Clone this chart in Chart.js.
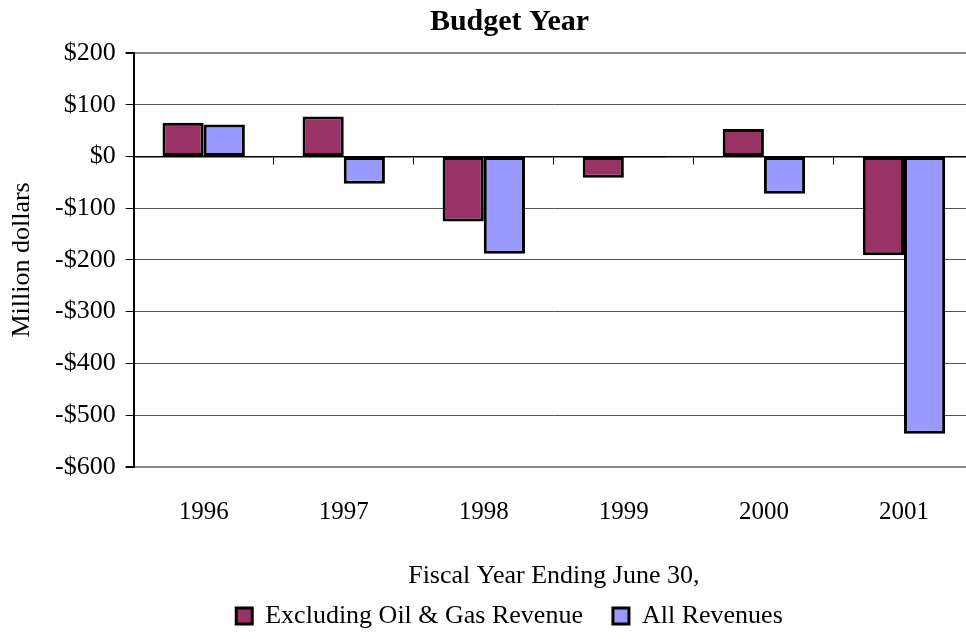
<!DOCTYPE html>
<html lang="en">
<head>
    <meta charset="UTF-8">
    <title>Budget Year</title>
    <script src="https://cdn.jsdelivr.net/npm/chart.js"></script>
    <style>
        html, body { margin: 0; padding: 0; background: #fff; overflow: hidden; }
        #wrap { width: 980px; height: 639px; }
    </style>
</head>
<body>
    <div id="wrap">
        <canvas id="budgetChart"></canvas>
    </div>

    <script>
        // Data (million dollars)
        const years = ['1996', '1997', '1998', '1999', '2000', '2001'];
        const excludingOilGas = [65, 77, -126, -41, 53, -191];
        const allRevenues = [62, -53, -188, -2, -72, -536];

        const yMin = -600;
        const yMax = 200;
        const yStep = 100;

        const chartTitle = 'Budget Year';
        const xAxisTitle = 'Fiscal Year Ending June 30,';
        const yAxisTitle = 'Million dollars';

        const serif = '"Liberation Serif", "Times New Roman", serif';

        // rotated y axis title, drawn at the far left
        const yTitlePlugin = {
            id: 'yTitle',
            afterDraw(chart) {
                const { ctx, chartArea } = chart;
                ctx.save();
                ctx.translate(22, (chartArea.top + chartArea.bottom) / 2);
                ctx.rotate(-Math.PI / 2);
                ctx.font = '26px ' + serif;
                ctx.fillStyle = '#000';
                ctx.textAlign = 'center';
                ctx.textBaseline = 'middle';
                ctx.fillText(yAxisTitle, 0, 0);
                ctx.restore();
            }
        };

        function money(v) {
            return v < 0 ? '-$' + Math.abs(v) : '$' + v;
        }

        const ctx = document.getElementById('budgetChart').getContext('2d');
        new Chart(ctx, {
            type: 'bar',
            data: {
                labels: years,
                datasets: [{
                    label: 'Excluding Oil & Gas Revenue',
                    data: excludingOilGas,
                    backgroundColor: '#993366',
                    borderColor: '#000',
                    borderWidth: 3,
                    borderSkipped: false
                }, {
                    label: 'All Revenues',
                    data: allRevenues,
                    backgroundColor: '#9999FF',
                    borderColor: '#000',
                    borderWidth: 3,
                    borderSkipped: false
                }]
            },
            options: {
                responsive: true,
                maintainAspectRatio: false,
                animation: false,
                categoryPercentage: 0.588,
                barPercentage: 1,
                layout: { padding: { left: 45, right: 6, top: 0, bottom: 0 } },
                plugins: {
                    title: {
                        display: true,
                        text: chartTitle,
                        color: '#000',
                        font: { family: serif, size: 30, weight: 'bold' },
                        padding: { top: 4, bottom: 13 }
                    },
                    legend: {
                        position: 'bottom',
                        labels: {
                            color: '#000',
                            font: { family: serif, size: 26 },
                            boxWidth: 16,
                            boxHeight: 16,
                            padding: 30
                        }
                    },
                    tooltip: { enabled: false }
                },
                scales: {
                    x: {
                        grid: { display: false },
                        border: { display: false },
                        ticks: {
                            color: '#000',
                            font: { family: serif, size: 25 },
                            padding: 23
                        },
                        title: {
                            display: true,
                            text: xAxisTitle,
                            color: '#000',
                            font: { family: serif, size: 26 },
                            padding: { top: 10, bottom: -19 }
                        }
                    },
                    // second category axis sitting on the zero line, only for its tick marks
                    xZero: {
                        type: 'category',
                        position: { y: 0 },
                        grid: {
                            offset: true,
                            drawOnChartArea: false,
                            tickLength: 7,
                            color: '#000'
                        },
                        border: { display: true, color: '#000', width: 1.5 },
                        ticks: { display: false }
                    },
                    y: {
                        min: yMin,
                        max: yMax,
                        ticks: {
                            stepSize: yStep,
                            color: '#000',
                            padding: 10,
                            font: { family: serif, size: 26 },
                            callback: v => money(v)
                        },
                        grid: {
                            tickLength: 8,
                            tickColor: '#000',
                            color: c => (c.tick && c.tick.value === 0) ? '#000' : ((c.tick && (c.tick.value === yMin || c.tick.value === yMax)) ? '#888' : '#555'),
                            lineWidth: c => (c.tick && (c.tick.value === yMin || c.tick.value === yMax)) ? 2 : 1
                        },
                        border: { display: true, color: '#000', width: 2 }
                    }
                }
            },
            plugins: [yTitlePlugin]
        });
    </script>
</body>
</html>
